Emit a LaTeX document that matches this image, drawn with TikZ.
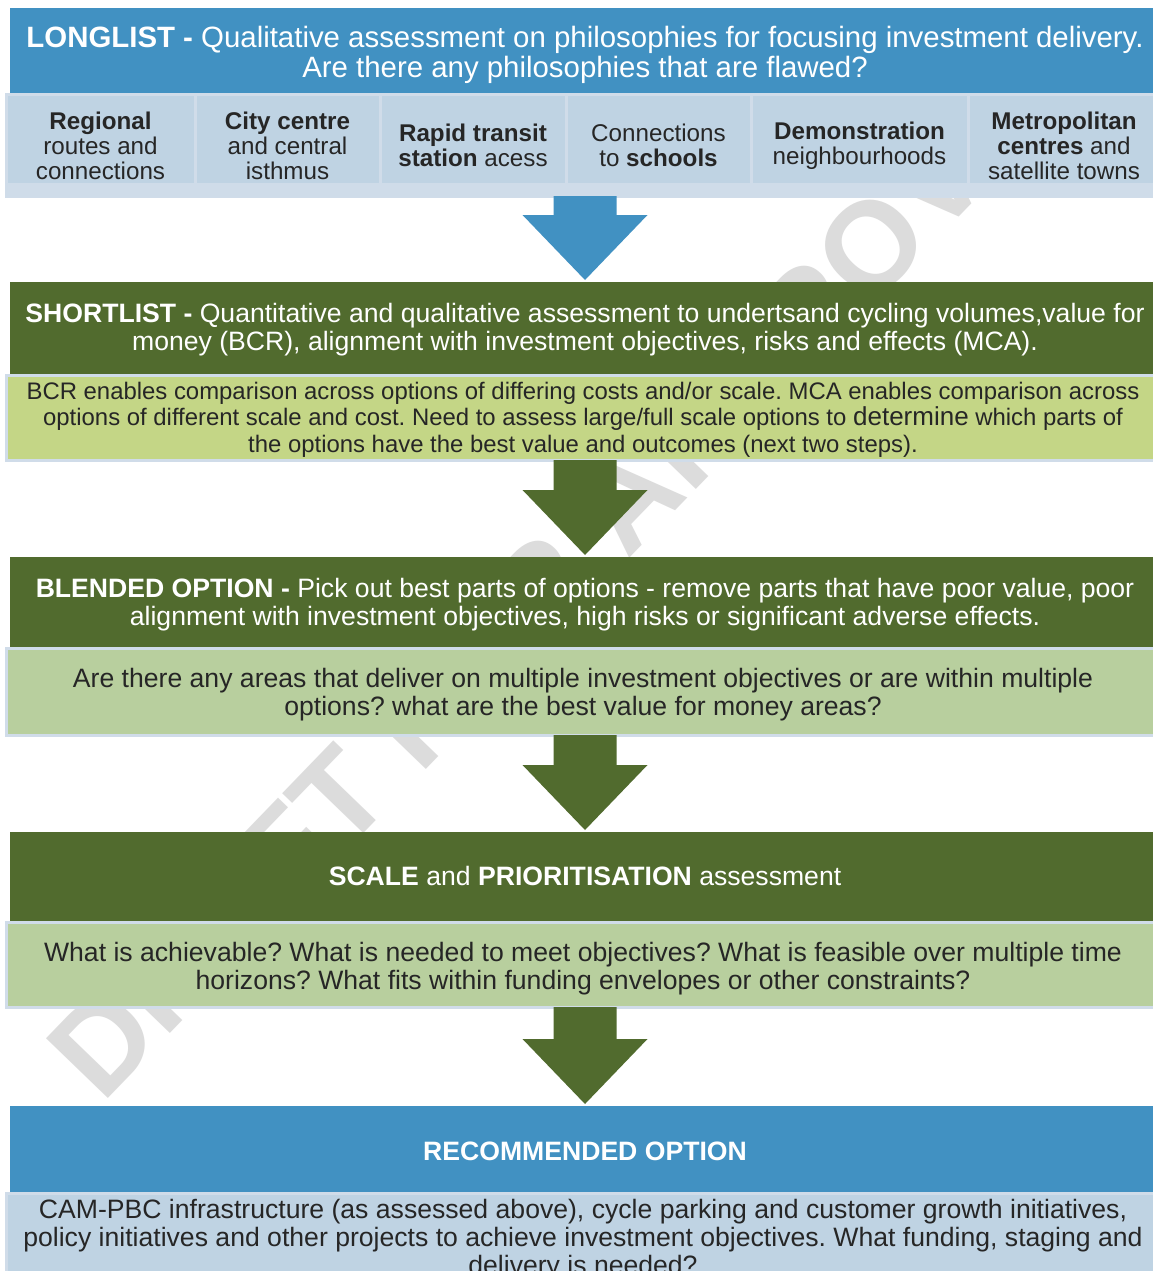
\documentclass[tikz,border=0pt]{standalone}
\usepackage{fontspec}
\setmainfont{Liberation Sans}
\usetikzlibrary{calc}
\frenchspacing

\definecolor{hdrblue}{HTML}{4191C2}
\definecolor{darkgreen}{HTML}{516B2E}
\definecolor{limegreen}{HTML}{C4D686}
\definecolor{sagegreen}{HTML}{B8CF9E}
\definecolor{paleblue}{HTML}{BFD3E3}
\definecolor{paleband}{HTML}{CFDCE9}
\definecolor{paleedge}{HTML}{D0DCE9}
\definecolor{inkdark}{HTML}{262626}
\definecolor{wmgray}{HTML}{DCDCDC}

\tikzset{
  bar/.style={rectangle, inner sep=0pt, outer sep=0pt, anchor=north west, minimum width=1150pt},
  bluebar/.style={bar, fill=hdrblue},
  greenbar/.style={bar, fill=darkgreen},
  notebar/.style={bar, minimum width=1154pt, draw=paleedge, line width=3pt},
  lighttext/.style={inner sep=0pt, align=center, text=white},
  darktext/.style={inner sep=0pt, align=center, text=inkdark},
  subbox/.style={rectangle, inner sep=0pt, outer sep=0pt, anchor=north west, align=center,
                 fill=paleblue, draw=paleedge, line width=3pt, minimum height=101pt,
                 text=inkdark, font=\fontsize{24.2}{25}\selectfont},
  headfont/.style={font=\fontsize{26.6}{28}\selectfont},
  notefont/.style={font=\fontsize{23.9}{26.5}\selectfont},
  bodyfont/.style={font=\fontsize{26.6}{28}\selectfont},
}

% downward block arrow from the bottom of #1 to the top of #2
\newcommand{\blockarrow}[3]{%
  \path let \p1=(#1), \p2=(#2) in [fill=#3]
    ({\x2-31.5pt},{\y1}) -- ({\x2+31.5pt},{\y1}) -- ({\x2+31.5pt},{\y2+67pt})
    -- ({\x2+62.5pt},{\y2+67pt}) -- ({\x2},{\y2+2pt}) -- ({\x2-62.5pt},{\y2+67pt})
    -- ({\x2-31.5pt},{\y2+67pt}) -- cycle;
}

\begin{document}
\begin{tikzpicture}[x=1pt,y=-1pt]
\clip (0,0) rectangle (1153,1271);
\fill[white] (0,0) rectangle (1153,1271);

% watermark behind everything
\node[rotate=46, text=wmgray, font=\fontsize{125}{125}\selectfont\bfseries] (wm) at (572,556) {DRAFT FOR APPROVAL};

% LONGLIST
\node[bluebar, minimum height=87pt] (long) at (10,8) {};
\node[lighttext, font=\fontsize{29.4}{30}\selectfont, yshift=-3pt] (longtxt) at (long.center)
  {\textbf{LONGLIST -} Qualitative assessment on philosophies for focusing investment delivery.\\
   Are there any philosophies that are flawed?};

\node[subbox, minimum width=189pt] (s1) at (6,95)   {\textbf{Regional}\\routes and\\connections};
\node[subbox, minimum width=185pt] (s2) at (195,95) {\textbf{City centre}\\and central\\isthmus};
\node[subbox, minimum width=186pt] (s3) at (380,95) {\textbf{Rapid transit}\\\textbf{station} acess};
\node[subbox, minimum width=185pt] (s4) at (566,95) {Connections\\to \textbf{schools}};
\node[subbox, minimum width=217pt] (s5) at (751,95) {\textbf{Demonstration}\\neighbourhoods};
\node[subbox, minimum width=192pt] (s6) at (968,95) {\textbf{Metropolitan}\\\textbf{centres} and\\satellite towns};
\fill[paleband] (6,183) rectangle (1160,197);

% SHORTLIST
\node[greenbar, minimum height=93pt] (short) at (10,282) {};
\node[lighttext, headfont, yshift=-1pt] (shorttxt) at (short.center)
  {\textbf{SHORTLIST -} Quantitative and qualitative assessment to undertsand cycling volumes,value for\\
   money (BCR), alignment with investment objectives, risks and effects (MCA).};
\node[notebar, fill=limegreen, minimum height=85pt] (shortnote) at (6,375) {};
\node[darktext, notefont, yshift=-2pt] (shortnotetxt) at (shortnote.center)
  {BCR enables comparison across options of differing costs and/or scale. MCA enables comparison across\\
   options of different scale and cost. Need to assess large/full scale options to {\fontsize{26}{26.5}\selectfont determine} which parts of\\
   the options have the best value and outcomes (next two steps).};

% BLENDED OPTION
\node[greenbar, minimum height=91pt] (blend) at (10,557) {};
\node[lighttext, headfont, yshift=-2pt] (blendtxt) at (blend.center)
  {\textbf{BLENDED OPTION -} Pick out best parts of options - remove parts that have poor value, poor\\
   alignment with investment objectives, high risks or significant adverse effects.};
\node[notebar, fill=sagegreen, minimum height=87pt] (blendnote) at (6,648) {};
\node[darktext, bodyfont, yshift=-3pt] (blendnotetxt) at (blendnote.center)
  {Are there any areas that deliver on multiple investment objectives or are within multiple\\
   options? what are the best value for money areas?};

% SCALE and PRIORITISATION
\node[greenbar, minimum height=90pt] (scale) at (10,832) {};
\node[lighttext, headfont, yshift=1pt] (scaletxt) at (scale.center)
  {\textbf{SCALE} and \textbf{PRIORITISATION} assessment};
\node[notebar, fill=sagegreen, minimum height=85pt] (scalenote) at (6,922) {};
\node[darktext, bodyfont, yshift=-4pt] (scalenotetxt) at (scalenote.center)
  {What is achievable? What is needed to meet objectives? What is feasible over multiple time\\
   horizons? What fits within funding envelopes or other constraints?};

% RECOMMENDED OPTION
\node[bluebar, minimum height=87pt] (rec) at (10,1106) {};
\node[lighttext, headfont, yshift=-2pt] (rectxt) at (rec.center)
  {\textbf{RECOMMENDED OPTION}};
\node[notebar, fill=paleblue, minimum height=88pt] (recnote) at (6,1193) {};
\node[darktext, bodyfont, yshift=-3pt] (recnotetxt) at (recnote.center)
  {CAM-PBC infrastructure (as assessed above), cycle parking and customer growth initiatives,\\
   policy initiatives and other projects to achieve investment objectives. What funding, staging and\\
   delivery is needed?};

% connecting block arrows
\blockarrow{s3.south}{short.north}{hdrblue}
\blockarrow{shortnote.south}{blend.north}{darkgreen}
\blockarrow{blendnote.south}{scale.north}{darkgreen}
\blockarrow{scalenote.south}{rec.north}{darkgreen}
\end{tikzpicture}
\end{document}
